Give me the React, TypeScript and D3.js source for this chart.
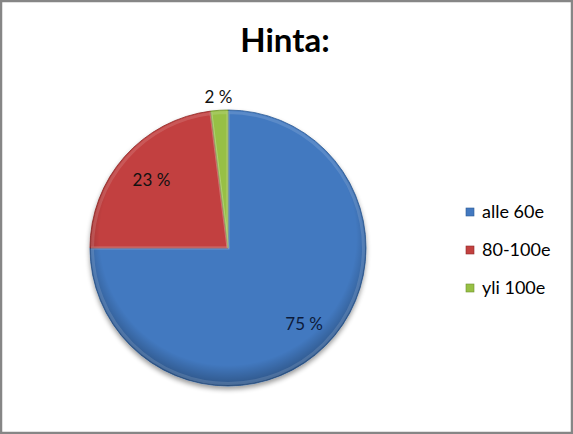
import React, { useEffect, useRef } from 'react';
import * as d3 from 'd3';

const categories = ['alle 60e', '80-100e', 'yli 100e'];
const values = [75, 23, 2];
const labels = ['75 %', '23 %', '2 %'];
const colors = ['#4379c0', '#c2413f', '#97c044'];
const darkColors = ['#2c5a94', '#8f2a28', '#6f9030'];

const W = 573;
const H = 434;

const App: React.FC = () => {
  const svgRef = useRef<SVGSVGElement>(null);

  useEffect(() => {
    if (!svgRef.current) return;
    const svg = d3.select(svgRef.current);
    svg.selectAll('*').remove();

    const font = 'Lato, Calibri, "Open Sans", sans-serif';

    // Background and frame
    svg.append('rect')
      .attr('x', 1).attr('y', 1)
      .attr('width', W - 2).attr('height', H - 2)
      .attr('fill', '#fff')
      .attr('stroke', '#868686')
      .attr('stroke-width', 2.5);

    // Title
    svg.append('text')
      .attr('x', 285)
      .attr('y', 52)
      .attr('text-anchor', 'middle')
      .style('font-family', font)
      .style('font-weight', 'bold')
      .style('font-size', '33px')
      .style('fill', '#000')
      .text('Hinta:');

    const cx = 228;
    const cy = 248;
    const r = 138;

    const defs = svg.append('defs');

    const shadow = defs.append('filter').attr('id', 'shadow')
      .attr('x', '-20%').attr('y', '-20%').attr('width', '140%').attr('height', '140%');
    shadow.append('feGaussianBlur').attr('in', 'SourceAlpha').attr('stdDeviation', 2.5);
    shadow.append('feOffset').attr('dx', 0).attr('dy', 2.5).attr('result', 'blur');
    shadow.append('feComponentTransfer').append('feFuncA').attr('type', 'linear').attr('slope', 0.4);
    const merge = shadow.append('feMerge');
    merge.append('feMergeNode');
    merge.append('feMergeNode').attr('in', 'SourceGraphic');

    // rim shading: darker towards the lower edge
    const rim = defs.append('radialGradient').attr('id', 'rim')
      .attr('cx', '50%').attr('cy', '46%').attr('r', '54%');
    rim.append('stop').attr('offset', '0%').attr('stop-color', '#000').attr('stop-opacity', 0);
    rim.append('stop').attr('offset', '86%').attr('stop-color', '#000').attr('stop-opacity', 0);
    rim.append('stop').attr('offset', '100%').attr('stop-color', '#000').attr('stop-opacity', 0.3);

    const pie = d3.pie<number>().sort(null).value(d => d);
    const arcs = pie(values);
    const arc = d3.arc<d3.PieArcDatum<number>>().innerRadius(0).outerRadius(r);

    const g = svg.append('g').attr('transform', `translate(${cx},${cy})`);

    const pieG = g.append('g').attr('filter', 'url(#shadow)');
    pieG.selectAll('path.slice')
      .data(arcs)
      .enter()
      .append('path')
      .attr('class', 'slice')
      .attr('d', arc)
      .attr('fill', (_, i) => colors[i])
      .attr('stroke', (_, i) => darkColors[i])
      .attr('stroke-width', 0.8);

    const clip = defs.append('clipPath').attr('id', 'pieclip');
    clip.append('circle').attr('cx', cx).attr('cy', cy).attr('r', r);
    g.append('circle').attr('r', r).attr('fill', 'url(#rim)');

    // soft bevel highlight along slice edges
    const inner = d3.arc<d3.PieArcDatum<number>>().innerRadius(0).outerRadius(r - 2.5);
    g.selectAll('path.hl')
      .data(arcs)
      .enter()
      .append('path')
      .attr('class', 'hl')
      .attr('d', inner)
      .attr('fill', 'none')
      .attr('stroke', '#fff')
      .attr('stroke-opacity', 0.13)
      .attr('stroke-width', 3);

    // Data labels
    g.selectAll('text.lbl')
      .data(arcs)
      .enter()
      .append('text')
      .attr('class', 'lbl')
      .attr('transform', (d, i) => {
        const a = (d.startAngle + d.endAngle) / 2;
        const lr = i === 2 ? r + 13 : (i === 0 ? r * 0.78 : r * 0.74);
        return `translate(${Math.sin(a) * lr},${-Math.cos(a) * lr})`;
      })
      .attr('text-anchor', 'middle')
      .attr('dy', '0.35em')
      .style('font-family', font)
      .style('font-size', '17px')
      .style('fill', (_, i) => (i === 0 ? '#0d1b3a' : '#111'))
      .text((_, i) => labels[i]);

    // Legend
    const legendY = d3.scalePoint<string>().domain(categories).range([212, 288]);
    const lg = svg.append('g');
    categories.forEach((c, i) => {
      const y = legendY(c)!;
      lg.append('rect')
        .attr('x', 466).attr('y', y - 4)
        .attr('width', 8).attr('height', 8)
        .attr('fill', colors[i])
        .attr('stroke', darkColors[i])
        .attr('stroke-width', 0.6);
      lg.append('text')
        .attr('x', 482).attr('y', y)
        .attr('dy', '0.35em')
        .style('font-family', font)
        .style('font-size', '18px')
        .style('fill', '#000')
        .text(c);
    });
  }, []);

  return (
    <svg
      ref={svgRef}
      width={W}
      height={H}
      style={{ position: 'absolute', left: 0, top: 0, display: 'block' }}
    />
  );
};

export default App;
